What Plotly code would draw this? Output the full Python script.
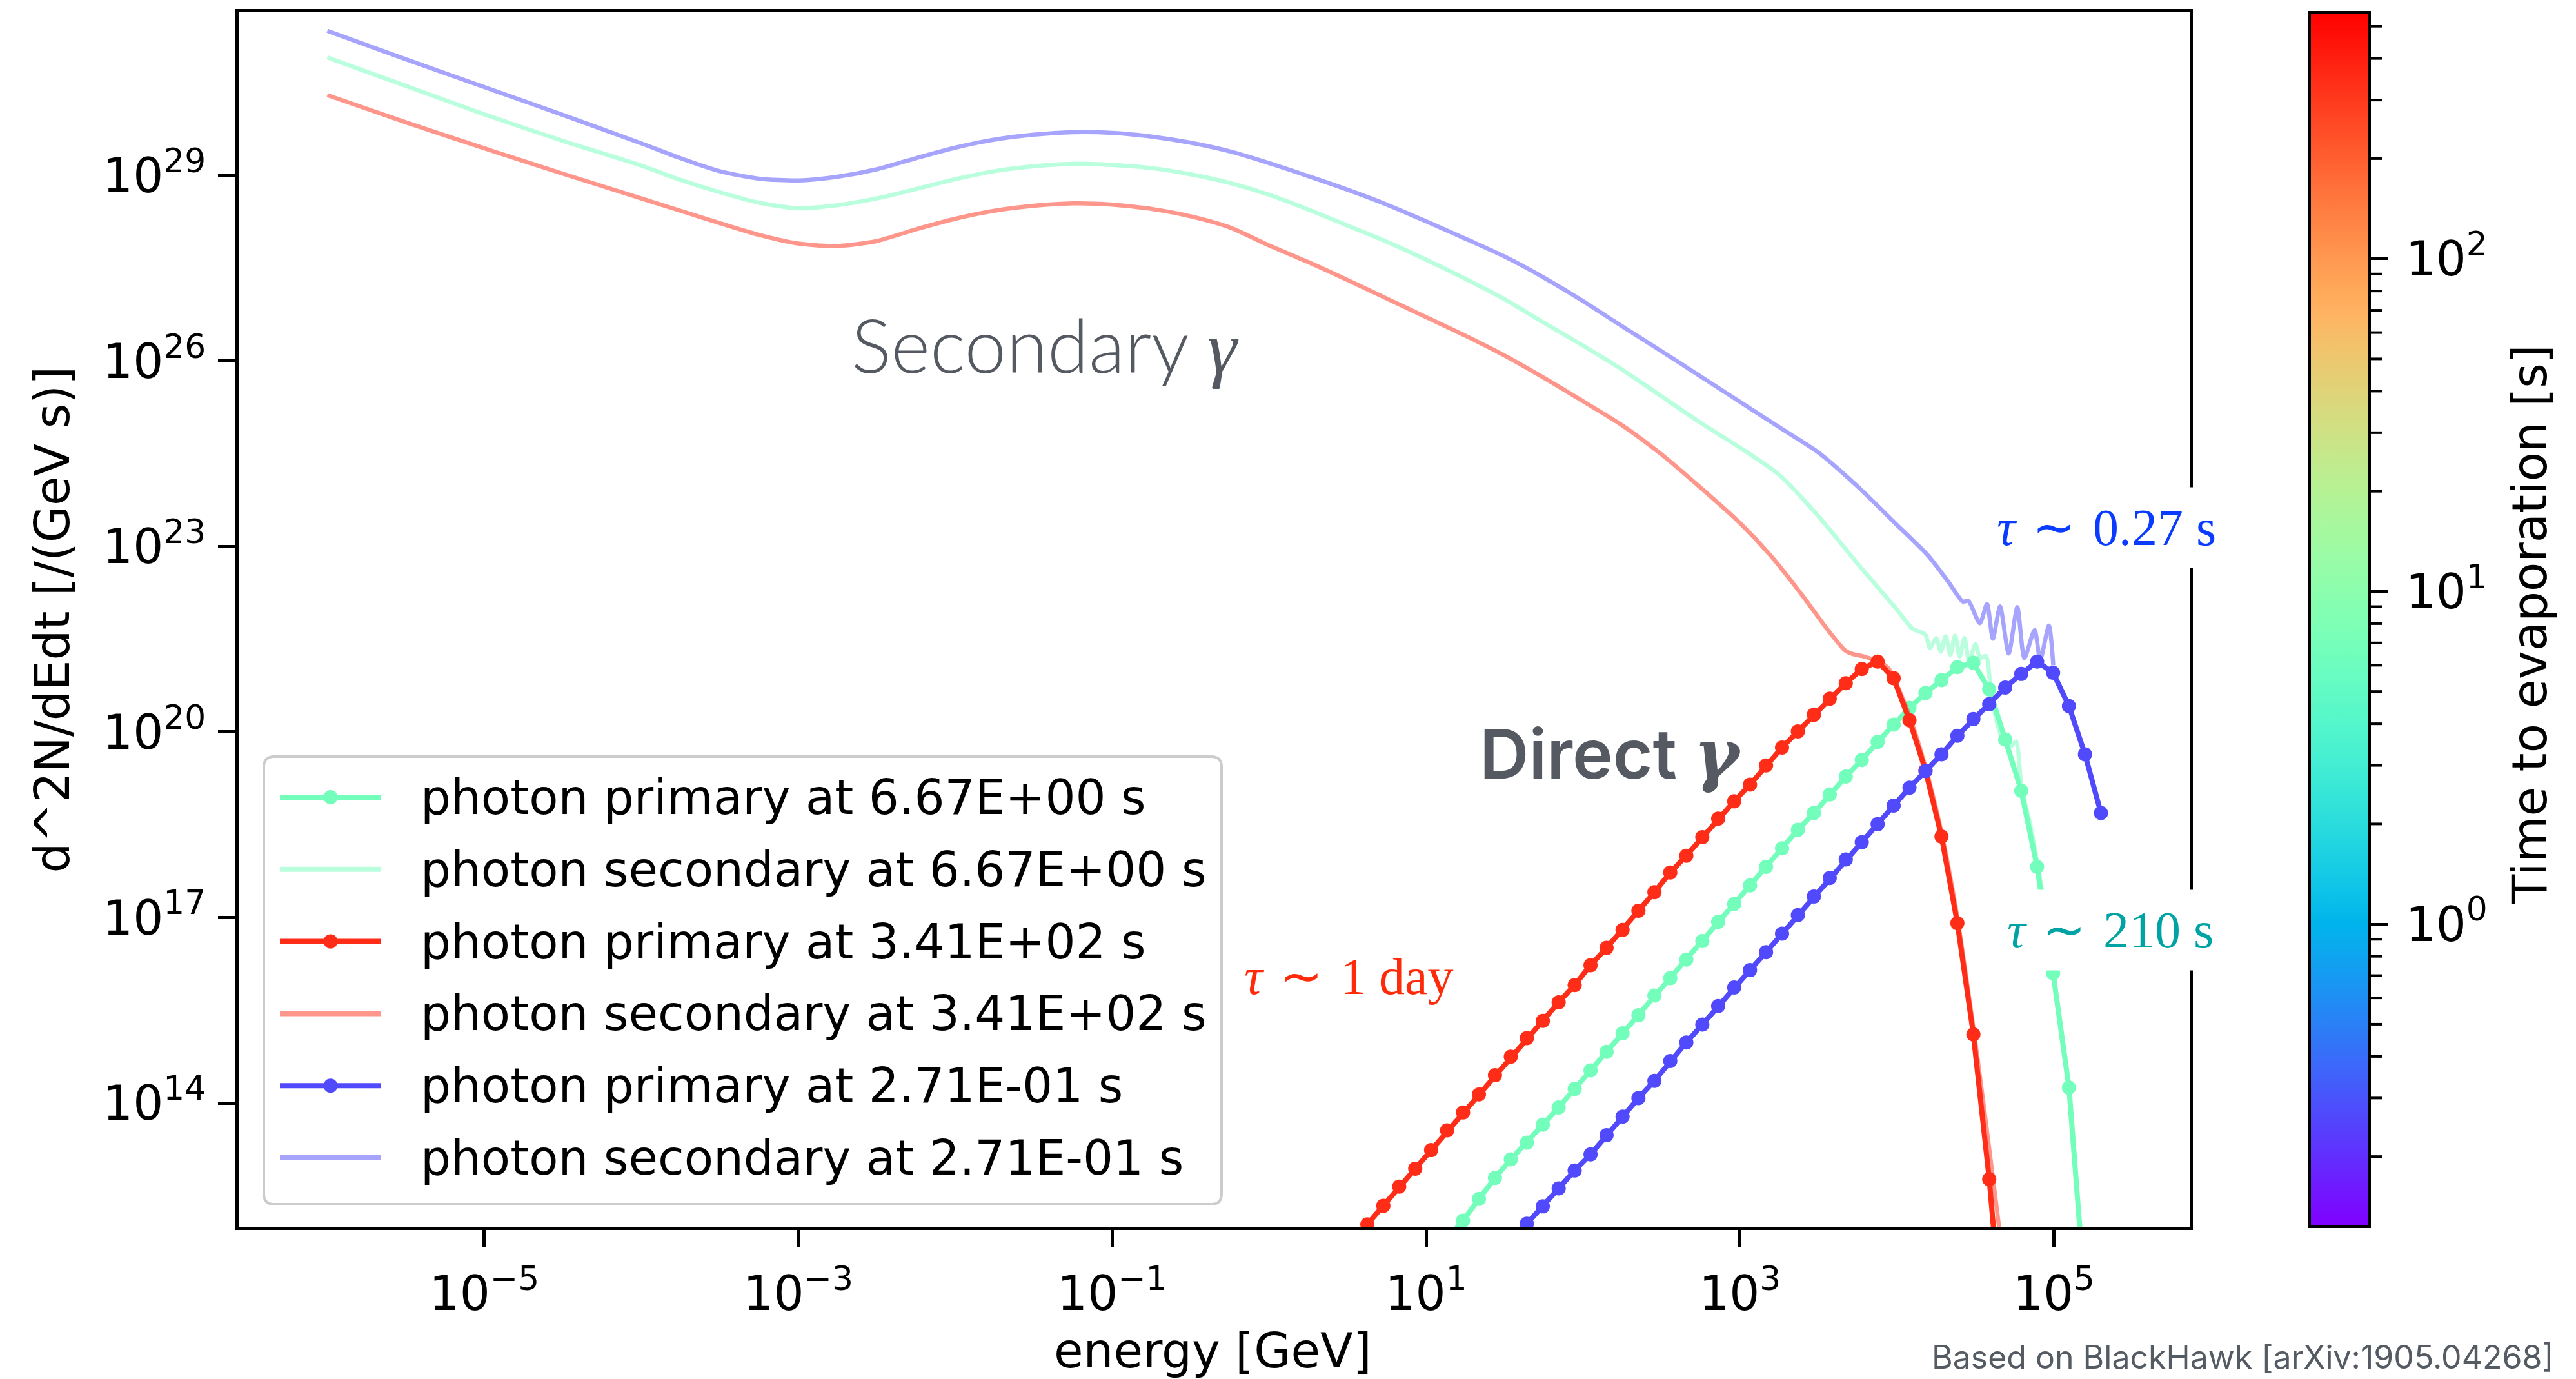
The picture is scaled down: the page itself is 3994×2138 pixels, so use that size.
import math
import plotly.graph_objects as go

# ----------------------------------------------------------------- data
# time to evaporation of each black hole [s]
TIMES_S = [6.67, 341.0, 0.271]
TIME_LABELS = ["6.67E+00", "3.41E+02", "2.71E-01"]

# colour-bar limits (log10 of time [s])
CB_MIN_LOG = -0.910
CB_MAX_LOG = 2.741

# ---- primary (direct) photon spectra: log10(E/GeV), log10(d2N/dEdt)
PRIM_GREEN_LOGE = [1.134, 1.236, 1.337, 1.439, 1.540, 1.642, 1.744, 1.845, 1.947, 2.048,
                   2.150, 2.252, 2.353, 2.455, 2.556, 2.658, 2.760, 2.861, 2.963, 3.064,
                   3.166, 3.268, 3.369, 3.471, 3.572, 3.674, 3.776, 3.877, 3.979, 4.080,
                   4.182, 4.284, 4.385, 4.487, 4.588, 4.690, 4.792, 4.893, 4.995, 5.096,
                   5.198]
PRIM_GREEN_LOGN = [11.80, 12.10, 12.45, 12.79, 13.09, 13.36, 13.65, 13.93, 14.23, 14.53,
                   14.83, 15.13, 15.42, 15.74, 16.02, 16.32, 16.62, 16.93, 17.22, 17.52,
                   17.82, 18.12, 18.42, 18.69, 18.99, 19.28, 19.55, 19.84, 20.12, 20.39,
                   20.63, 20.84, 21.05, 21.12, 20.69, 19.88, 19.05, 17.82, 16.10, 14.25,
                   10.90]

PRIM_RED_LOGE = [0.524, 0.626, 0.728, 0.829, 0.931, 1.032, 1.134, 1.236, 1.337, 1.439,
                 1.540, 1.642, 1.744, 1.845, 1.947, 2.048, 2.150, 2.252, 2.353, 2.455,
                 2.556, 2.658, 2.760, 2.861, 2.963, 3.064, 3.166, 3.268, 3.369, 3.471,
                 3.572, 3.674, 3.776, 3.877, 3.979, 4.080, 4.182, 4.284, 4.385, 4.487,
                 4.588, 4.690]
PRIM_RED_LOGN = [11.74, 12.04, 12.34, 12.65, 12.94, 13.24, 13.56, 13.85, 14.14, 14.45,
                 14.75, 15.05, 15.33, 15.63, 15.91, 16.23, 16.51, 16.80, 17.11, 17.41,
                 17.73, 18.00, 18.30, 18.60, 18.88, 19.15, 19.46, 19.75, 20.01, 20.28,
                 20.54, 20.79, 21.02, 21.14, 20.87, 20.19, 19.38, 18.31, 16.91, 15.11,
                 12.77, 9.80]

PRIM_BLUE_LOGE = [1.540, 1.642, 1.744, 1.845, 1.947, 2.048, 2.150, 2.252, 2.353, 2.455,
                  2.556, 2.658, 2.760, 2.861, 2.963, 3.064, 3.166, 3.268, 3.369, 3.471,
                  3.572, 3.674, 3.776, 3.877, 3.979, 4.080, 4.182, 4.284, 4.385, 4.487,
                  4.588, 4.690, 4.792, 4.893, 4.995, 5.096, 5.198, 5.300]
PRIM_BLUE_LOGN = [11.76, 12.05, 12.33, 12.62, 12.91, 13.17, 13.48, 13.78, 14.08, 14.36,
                  14.68, 14.98, 15.27, 15.57, 15.87, 16.15, 16.44, 16.74, 17.04, 17.34,
                  17.64, 17.94, 18.22, 18.51, 18.81, 19.10, 19.37, 19.64, 19.94, 20.21,
                  20.45, 20.72, 20.94, 21.14, 20.96, 20.42, 19.64, 18.69]

# ---- secondary photon spectra
SEC_GREEN_LOGE = [-6.0, -5.5, -5.0, -4.5, -4.0, -3.75, -3.5, -3.25, -3.0, -2.75,
                  -2.5, -2.25, -2.0, -1.75, -1.5, -1.25, -1.0, -0.75, -0.5, -0.25,
                  0.0, 0.25, 0.5, 0.75, 1.0, 1.25, 1.5, 1.75, 2.0, 2.25,
                  2.5, 2.75, 3.0, 3.25, 3.5, 3.75, 4.0, 4.1, 4.18, 4.21,
                  4.25, 4.28, 4.31, 4.34, 4.37, 4.40, 4.43, 4.46, 4.50, 4.53,
                  4.567, 4.603, 4.667, 4.731, 4.759, 4.795, 4.85, 4.893, 4.95, 4.995]
SEC_GREEN_LOGN = [30.91, 30.45, 29.99, 29.56, 29.16, 28.93, 28.73, 28.56, 28.47, 28.52,
                  28.63, 28.78, 28.94, 29.07, 29.15, 29.19, 29.17, 29.12, 29.02, 28.88,
                  28.69, 28.45, 28.19, 27.93, 27.64, 27.33, 27.00, 26.62, 26.25, 25.86,
                  25.43, 25.00, 24.60, 24.16, 23.49, 22.72, 21.98, 21.67, 21.58, 21.36,
                  21.52, 21.30, 21.55, 21.25, 21.56, 21.22, 21.52, 21.15, 21.42, 21.20,
                  21.23, 20.57, 19.92, 19.78, 19.85, 19.08, 18.50, 17.90, 17.05, 16.20]

SEC_RED_LOGE = [-6.0, -5.5, -5.0, -4.5, -4.0, -3.75, -3.5, -3.25, -3.0, -2.75,
                -2.5, -2.25, -2.0, -1.75, -1.5, -1.25, -1.0, -0.75, -0.5, -0.25,
                0.0, 0.25, 0.5, 0.75, 1.0, 1.25, 1.5, 1.75, 2.0, 2.25,
                2.5, 2.75, 3.0, 3.2, 3.4, 3.56, 3.67, 3.72, 3.78, 3.83,
                3.877, 3.95, 4.0, 4.08, 4.18, 4.28, 4.38, 4.48, 4.55, 4.62,
                4.70]
SEC_RED_LOGN = [30.30, 29.86, 29.44, 29.03, 28.63, 28.43, 28.23, 28.04, 27.90, 27.86,
                27.94, 28.13, 28.30, 28.43, 28.51, 28.55, 28.53, 28.46, 28.34, 28.16,
                27.87, 27.60, 27.31, 27.01, 26.71, 26.41, 26.09, 25.73, 25.35, 24.96,
                24.49, 23.95, 23.38, 22.84, 22.20, 21.65, 21.32, 21.26, 21.23, 21.19,
                21.16, 21.02, 20.76, 20.26, 19.45, 18.42, 17.08, 15.35, 14.02, 12.62,
                11.00]

SEC_BLUE_LOGE = [-6.0, -5.5, -5.0, -4.5, -4.0, -3.75, -3.5, -3.25, -3.0, -2.75,
                 -2.5, -2.25, -2.0, -1.75, -1.5, -1.25, -1.0, -0.75, -0.5, -0.25,
                 0.0, 0.25, 0.5, 0.75, 1.0, 1.25, 1.5, 1.75, 2.0, 2.25,
                 2.5, 2.75, 3.0, 3.25, 3.5, 3.75, 4.0, 4.2, 4.33, 4.42,
                 4.455, 4.528, 4.574, 4.611, 4.657, 4.712, 4.767, 4.812, 4.877, 4.913,
                 4.968, 4.996]
SEC_BLUE_LOGN = [31.34, 30.88, 30.43, 29.98, 29.52, 29.28, 29.07, 28.95, 28.92, 28.98,
                 29.10, 29.28, 29.45, 29.58, 29.66, 29.70, 29.69, 29.63, 29.53, 29.39,
                 29.20, 28.99, 28.77, 28.53, 28.26, 27.98, 27.69, 27.35, 26.97, 26.56,
                 26.16, 25.75, 25.34, 24.93, 24.52, 23.97, 23.35, 22.85, 22.42, 22.11,
                 22.12, 21.76, 22.07, 21.51, 22.03, 21.27, 22.02, 21.20, 21.65, 21.17,
                 21.72, 21.08]

X_TICK_EXP = [-5, -3, -1, 1, 3, 5]
Y_TICK_EXP = [14, 17, 20, 23, 26, 29]
CB_TICK_EXP = [0, 1, 2]
CB_MINOR = [0.2, 0.3, 0.4, 0.5, 0.6, 0.7, 0.8, 0.9,
            2, 3, 4, 5, 6, 7, 8, 9,
            20, 30, 40, 50, 60, 70, 80, 90,
            200, 300, 400, 500]

# ----------------------------------------------------------------- geometry / style
W, H = 3994, 2138
PL, PR, PT, PB = 370, 3395, 19, 1902
FONT = "DejaVu Sans"
FS = 74


def pxx(px):
    return (px - PL) / (PR - PL)


def pxy(py):
    return (PB - py) / (PB - PT)


def rainbow(t):
    t = min(1.0, max(0.0, t))
    r = min(1.0, abs(2 * t - 0.5))
    g = max(0.0, math.sin(math.pi * t))
    b = max(0.0, math.cos(math.pi * t / 2))
    return int(round(r * 255)), int(round(g * 255)), int(round(b * 255))


def tnorm(t):
    return (math.log10(t) - CB_MIN_LOG) / (CB_MAX_LOG - CB_MIN_LOG)


COLORSCALE = []
for i in range(41):
    c = rainbow(i / 40)
    COLORSCALE.append([i / 40, "rgb(%d,%d,%d)" % c])

cols = [rainbow(tnorm(t)) for t in TIMES_S]


def rgba(c, a):
    return "rgba(%d,%d,%d,%s)" % (c[0], c[1], c[2], a)


series = [
    (PRIM_GREEN_LOGE, PRIM_GREEN_LOGN, SEC_GREEN_LOGE, SEC_GREEN_LOGN),
    (PRIM_RED_LOGE, PRIM_RED_LOGN, SEC_RED_LOGE, SEC_RED_LOGN),
    (PRIM_BLUE_LOGE, PRIM_BLUE_LOGN, SEC_BLUE_LOGE, SEC_BLUE_LOGN),
]

fig = go.Figure()
for (pe, pn, se, sn), col, lab in zip(series, cols, TIME_LABELS):
    fig.add_trace(go.Scatter(
        x=[10.0 ** v for v in pe], y=[10.0 ** v for v in pn],
        mode="lines+markers", name="photon primary at %s s" % lab,
        line=dict(color=rgba(col, 1), width=8),
        marker=dict(color=rgba(col, 1), size=22),
        showlegend=False))
    fig.add_trace(go.Scatter(
        x=[10.0 ** v for v in se], y=[10.0 ** v for v in sn],
        mode="lines", name="photon secondary at %s s" % lab,
        line=dict(color=rgba(col, 0.5), width=6.5, shape="spline", smoothing=0.7),
        showlegend=False))

# colour bar (dummy trace carrying the colour scale)
SP = "\u2006"
fig.add_trace(go.Scatter(
    x=[None, None, None], y=[None, None, None], mode="markers",
    showlegend=False, hoverinfo="skip",
    marker=dict(color=[math.log10(t) for t in TIMES_S], cmin=CB_MIN_LOG, cmax=CB_MAX_LOG,
                colorscale=COLORSCALE, showscale=True,
                colorbar=dict(x=pxx(3581), xanchor="left", xref="paper",
                              y=0.5, yanchor="middle", len=1, lenmode="fraction",
                              thickness=93, thicknessmode="pixels",
                              outlinewidth=4, outlinecolor="black",
                              xpad=0, ypad=0, ticks="outside", ticklen=27,
                              tickwidth=4, tickcolor="black",
                              tickmode="array", tickvals=CB_TICK_EXP,
                              ticktext=[SP + "10<sup>%d</sup>" % e for e in CB_TICK_EXP],
                              tickfont=dict(family=FONT, size=FS, color="black")))))

shapes = []
# colour-bar minor ticks
for v in CB_MINOR:
    f = (math.log10(v) - CB_MIN_LOG) / (CB_MAX_LOG - CB_MIN_LOG)
    shapes.append(dict(type="line", xref="paper", yref="paper",
                       x0=pxx(3676), x1=pxx(3693), y0=f, y1=f,
                       line=dict(color="black", width=4)))

# legend box (rounded)
lx0, lx1, ly0, ly1 = 409, 1894, 1173, 1867
rx, ry = 16 / (PR - PL), 16 / (PB - PT)
X0, X1, Y0, Y1 = pxx(lx0), pxx(lx1), pxy(ly1), pxy(ly0)
path = ("M %f,%f L %f,%f Q %f,%f %f,%f L %f,%f Q %f,%f %f,%f L %f,%f Q %f,%f %f,%f "
        "L %f,%f Q %f,%f %f,%f Z") % (
    X0 + rx, Y0, X1 - rx, Y0, X1, Y0, X1, Y0 + ry,
    X1, Y1 - ry, X1, Y1, X1 - rx, Y1,
    X0 + rx, Y1, X0, Y1, X0, Y1 - ry,
    X0, Y0 + ry, X0, Y0, X0 + rx, Y0)
shapes.append(dict(type="path", xref="paper", yref="paper", path=path,
                   fillcolor="rgba(255,255,255,0.8)",
                   line=dict(color="#cccccc", width=4)))

annotations = []
legend_rows = []
for col, lab in zip(cols, TIME_LABELS):
    legend_rows.append((rgba(col, 1), True, "photon primary at %s s" % lab))
    legend_rows.append((rgba(col, 0.5), False, "photon secondary at %s s" % lab))

for i, (c, mk, text) in enumerate(legend_rows):
    yy = 1236 + i * 111.8
    shapes.append(dict(type="line", xref="paper", yref="paper",
                       x0=pxx(434), x1=pxx(591), y0=pxy(yy), y1=pxy(yy),
                       line=dict(color=c, width=8)))
    if mk:
        shapes.append(dict(type="circle", xref="paper", yref="paper",
                           x0=pxx(501.5), x1=pxx(523.5), y0=pxy(yy + 11), y1=pxy(yy - 11),
                           fillcolor=c, line=dict(width=0)))
    annotations.append(dict(xref="paper", yref="paper", x=pxx(650), y=pxy(yy),
                            xanchor="left", yanchor="middle", showarrow=False,
                            text=text, font=dict(family=FONT, size=FS, color="black")))

GAMMA_THIN = '<span style="font-family:Liberation Serif"><i>γ</i></span>'
GAMMA_BOLD = '<span style="font-family:DejaVu Serif"><i>γ</i></span>'
ESP = "\u2004"
annotations += [
    dict(xref="paper", yref="paper", x=pxx(1620), y=pxy(533), xanchor="center",
         yanchor="middle", showarrow=False, text="Secondary " + GAMMA_THIN,
         font=dict(family="Lato", size=116, color="#555a62", weight=300)),
    dict(xref="paper", yref="paper", x=pxx(2498), y=pxy(1168), xanchor="center",
         yanchor="middle", showarrow=False, text="Direct " + GAMMA_BOLD,
         font=dict(family="Inter", size=106, color="#555a62", weight=600)),
    dict(xref="paper", yref="paper", x=pxx(3266), y=pxy(818), xanchor="center",
         yanchor="middle", showarrow=False,
         text="<i>τ</i>" + ESP + "∼" + ESP + "0.27 s",
         font=dict(family="Liberation Serif", size=80, color="#0a3cff"),
         bgcolor="white", borderpad=18),
    dict(xref="paper", yref="paper", x=pxx(3272), y=pxy(1442), xanchor="center",
         yanchor="middle", showarrow=False,
         text="<i>τ</i>" + ESP + "∼" + ESP + "210 s",
         font=dict(family="Liberation Serif", size=80, color="#00a3a3"),
         bgcolor="white", borderpad=18),
    dict(xref="paper", yref="paper", x=pxx(2091), y=pxy(1514), xanchor="center",
         yanchor="middle", showarrow=False,
         text="<i>τ</i>" + ESP + "∼" + ESP + "1 day",
         font=dict(family="Liberation Serif", size=80, color="#ff2a0a"),
         bgcolor="white", borderpad=12),
    # axis titles
    dict(xref="paper", yref="paper", x=pxx(1880), y=pxy(2094), xanchor="center",
         yanchor="middle", showarrow=False, text="energy [GeV]",
         font=dict(family=FONT, size=FS, color="black")),
    dict(xref="paper", yref="paper", x=pxx(80), y=0.5, xanchor="center",
         yanchor="middle", showarrow=False, text="d^2N/dEdt [/(GeV s)]", textangle=-90,
         font=dict(family=FONT, size=FS, color="black")),
    dict(xref="paper", yref="paper", x=pxx(3922), y=pxy(968), xanchor="center",
         yanchor="middle", showarrow=False, text="Time to evaporation [s]", textangle=-90,
         font=dict(family=FONT, size=FS, color="black")),
    dict(xref="paper", yref="paper", x=pxx(3962), y=pxy(2136), xanchor="right",
         yanchor="bottom", showarrow=False, text="Based on BlackHawk [arXiv:1905.04268]",
         font=dict(family="Inter", size=50, color="#555b63")),
]


def sup(e):
    return "10<sup>%s</sup>" % (("−%d" % -e) if e < 0 else "%d" % e)


fig.update_layout(
    width=W, height=H,
    margin=dict(l=PL, r=W - PR, t=PT, b=H - PB, autoexpand=False),
    paper_bgcolor="white", plot_bgcolor="white", showlegend=False,
    font=dict(family=FONT, size=FS, color="black"),
    xaxis=dict(type="log", range=[-6.565, 5.865], showgrid=False, zeroline=False,
               showline=True, linewidth=5, linecolor="black", mirror=True,
               ticks="outside", ticklen=27, tickwidth=5, tickcolor="black",
               tickmode="array", tickvals=[10.0 ** e for e in X_TICK_EXP],
               ticktext=[sup(e) for e in X_TICK_EXP],
               tickfont=dict(family=FONT, size=FS, color="black"),
               ticklabelstandoff=8),
    yaxis=dict(type="log", range=[12.0, 31.64], showgrid=False, zeroline=False,
               showline=True, linewidth=5, linecolor="black", mirror=True,
               ticks="outside", ticklen=27, tickwidth=5, tickcolor="black",
               tickmode="array", tickvals=[10.0 ** e for e in Y_TICK_EXP],
               ticktext=[sup(e) for e in Y_TICK_EXP],
               tickfont=dict(family=FONT, size=FS, color="black"),
               ticklabelstandoff=4),
    shapes=shapes, annotations=annotations,
)

fig.write_html("out.html")
